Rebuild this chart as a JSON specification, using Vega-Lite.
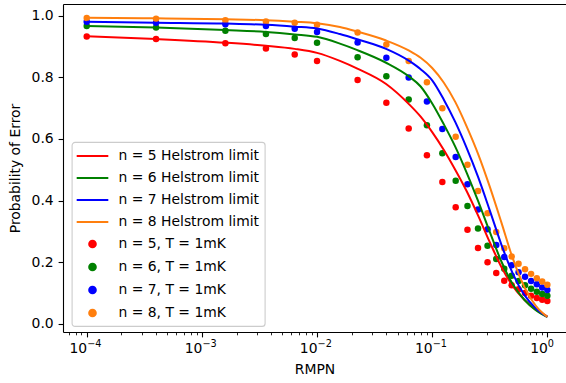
{
"$schema":"https://vega.github.io/schema/vega-lite/v6.json",
"width":503,"height":328,
"autosize":{"type":"none"},
"padding":{"left":63,"top":4,"right":0,"bottom":51},
"config":{"view":{"stroke":null},"font":"DejaVu Sans","axis":{"labelColor":"black","titleColor":"black","tickColor":"black","domainColor":"black","domainWidth":1.1,"titleFontWeight":"normal","labelFont":"DejaVu Sans","titleFont":"DejaVu Sans"}},
"datasets":{
"dots":[
{"x":0.0001,"p":0.932,"series":"n = 5, T = 1mK"},{"x":0.0004,"p":0.924,"series":"n = 5, T = 1mK"},{"x":0.0016,"p":0.910,"series":"n = 5, T = 1mK"},{"x":0.0036,"p":0.893,"series":"n = 5, T = 1mK"},{"x":0.0064,"p":0.874,"series":"n = 5, T = 1mK"},{"x":0.01,"p":0.853,"series":"n = 5, T = 1mK"},{"x":0.0225,"p":0.791,"series":"n = 5, T = 1mK"},{"x":0.04,"p":0.717,"series":"n = 5, T = 1mK"},{"x":0.0625,"p":0.634,"series":"n = 5, T = 1mK"},{"x":0.09,"p":0.547,"series":"n = 5, T = 1mK"},{"x":0.1225,"p":0.460,"series":"n = 5, T = 1mK"},{"x":0.16,"p":0.378,"series":"n = 5, T = 1mK"},{"x":0.2025,"p":0.305,"series":"n = 5, T = 1mK"},{"x":0.25,"p":0.246,"series":"n = 5, T = 1mK"},{"x":0.3025,"p":0.200,"series":"n = 5, T = 1mK"},{"x":0.36,"p":0.165,"series":"n = 5, T = 1mK"},{"x":0.4225,"p":0.140,"series":"n = 5, T = 1mK"},{"x":0.49,"p":0.125,"series":"n = 5, T = 1mK"},{"x":0.5625,"p":0.112,"series":"n = 5, T = 1mK"},{"x":0.64,"p":0.100,"series":"n = 5, T = 1mK"},{"x":0.7225,"p":0.091,"series":"n = 5, T = 1mK"},{"x":0.81,"p":0.084,"series":"n = 5, T = 1mK"},{"x":0.9025,"p":0.078,"series":"n = 5, T = 1mK"},{"x":1,"p":0.074,"series":"n = 5, T = 1mK"},
{"x":0.0001,"p":0.966,"series":"n = 6, T = 1mK"},{"x":0.0004,"p":0.961,"series":"n = 6, T = 1mK"},{"x":0.0016,"p":0.951,"series":"n = 6, T = 1mK"},{"x":0.0036,"p":0.940,"series":"n = 6, T = 1mK"},{"x":0.0064,"p":0.927,"series":"n = 6, T = 1mK"},{"x":0.01,"p":0.912,"series":"n = 6, T = 1mK"},{"x":0.0225,"p":0.865,"series":"n = 6, T = 1mK"},{"x":0.04,"p":0.803,"series":"n = 6, T = 1mK"},{"x":0.0625,"p":0.728,"series":"n = 6, T = 1mK"},{"x":0.09,"p":0.644,"series":"n = 6, T = 1mK"},{"x":0.1225,"p":0.553,"series":"n = 6, T = 1mK"},{"x":0.16,"p":0.464,"series":"n = 6, T = 1mK"},{"x":0.2025,"p":0.382,"series":"n = 6, T = 1mK"},{"x":0.25,"p":0.309,"series":"n = 6, T = 1mK"},{"x":0.3025,"p":0.253,"series":"n = 6, T = 1mK"},{"x":0.36,"p":0.210,"series":"n = 6, T = 1mK"},{"x":0.4225,"p":0.179,"series":"n = 6, T = 1mK"},{"x":0.49,"p":0.156,"series":"n = 6, T = 1mK"},{"x":0.5625,"p":0.139,"series":"n = 6, T = 1mK"},{"x":0.64,"p":0.125,"series":"n = 6, T = 1mK"},{"x":0.7225,"p":0.114,"series":"n = 6, T = 1mK"},{"x":0.81,"p":0.104,"series":"n = 6, T = 1mK"},{"x":0.9025,"p":0.097,"series":"n = 6, T = 1mK"},{"x":1,"p":0.091,"series":"n = 6, T = 1mK"},
{"x":0.0001,"p":0.980,"series":"n = 7, T = 1mK"},{"x":0.0004,"p":0.977,"series":"n = 7, T = 1mK"},{"x":0.0016,"p":0.972,"series":"n = 7, T = 1mK"},{"x":0.0036,"p":0.966,"series":"n = 7, T = 1mK"},{"x":0.0064,"p":0.957,"series":"n = 7, T = 1mK"},{"x":0.01,"p":0.947,"series":"n = 7, T = 1mK"},{"x":0.0225,"p":0.913,"series":"n = 7, T = 1mK"},{"x":0.04,"p":0.863,"series":"n = 7, T = 1mK"},{"x":0.0625,"p":0.799,"series":"n = 7, T = 1mK"},{"x":0.09,"p":0.721,"series":"n = 7, T = 1mK"},{"x":0.1225,"p":0.632,"series":"n = 7, T = 1mK"},{"x":0.16,"p":0.541,"series":"n = 7, T = 1mK"},{"x":0.2025,"p":0.453,"series":"n = 7, T = 1mK"},{"x":0.25,"p":0.371,"series":"n = 7, T = 1mK"},{"x":0.3025,"p":0.307,"series":"n = 7, T = 1mK"},{"x":0.36,"p":0.256,"series":"n = 7, T = 1mK"},{"x":0.4225,"p":0.217,"series":"n = 7, T = 1mK"},{"x":0.49,"p":0.190,"series":"n = 7, T = 1mK"},{"x":0.5625,"p":0.167,"series":"n = 7, T = 1mK"},{"x":0.64,"p":0.153,"series":"n = 7, T = 1mK"},{"x":0.7225,"p":0.139,"series":"n = 7, T = 1mK"},{"x":0.81,"p":0.128,"series":"n = 7, T = 1mK"},{"x":0.9025,"p":0.118,"series":"n = 7, T = 1mK"},{"x":1,"p":0.110,"series":"n = 7, T = 1mK"},
{"x":0.0001,"p":0.992,"series":"n = 8, T = 1mK"},{"x":0.0004,"p":0.990,"series":"n = 8, T = 1mK"},{"x":0.0016,"p":0.985,"series":"n = 8, T = 1mK"},{"x":0.0036,"p":0.981,"series":"n = 8, T = 1mK"},{"x":0.0064,"p":0.977,"series":"n = 8, T = 1mK"},{"x":0.01,"p":0.970,"series":"n = 8, T = 1mK"},{"x":0.0225,"p":0.945,"series":"n = 8, T = 1mK"},{"x":0.04,"p":0.906,"series":"n = 8, T = 1mK"},{"x":0.0625,"p":0.853,"series":"n = 8, T = 1mK"},{"x":0.09,"p":0.784,"series":"n = 8, T = 1mK"},{"x":0.1225,"p":0.699,"series":"n = 8, T = 1mK"},{"x":0.16,"p":0.607,"series":"n = 8, T = 1mK"},{"x":0.2025,"p":0.516,"series":"n = 8, T = 1mK"},{"x":0.25,"p":0.431,"series":"n = 8, T = 1mK"},{"x":0.3025,"p":0.359,"series":"n = 8, T = 1mK"},{"x":0.36,"p":0.298,"series":"n = 8, T = 1mK"},{"x":0.4225,"p":0.245,"series":"n = 8, T = 1mK"},{"x":0.49,"p":0.218,"series":"n = 8, T = 1mK"},{"x":0.5625,"p":0.195,"series":"n = 8, T = 1mK"},{"x":0.64,"p":0.177,"series":"n = 8, T = 1mK"},{"x":0.7225,"p":0.162,"series":"n = 8, T = 1mK"},{"x":0.81,"p":0.148,"series":"n = 8, T = 1mK"},{"x":0.9025,"p":0.137,"series":"n = 8, T = 1mK"},{"x":1,"p":0.127,"series":"n = 8, T = 1mK"}
],
"lines":[
{"x":0.0001,"p":0.933,"series":"n = 5 Helstrom limit"},{"x":0.0004,"p":0.924,"series":"n = 5 Helstrom limit"},{"x":0.0016,"p":0.912,"series":"n = 5 Helstrom limit"},{"x":0.0036,"p":0.902,"series":"n = 5 Helstrom limit"},{"x":0.0064,"p":0.892,"series":"n = 5 Helstrom limit"},{"x":0.01,"p":0.879,"series":"n = 5 Helstrom limit"},{"x":0.0158,"p":0.853,"series":"n = 5 Helstrom limit"},{"x":0.0224,"p":0.828,"series":"n = 5 Helstrom limit"},{"x":0.0398,"p":0.778,"series":"n = 5 Helstrom limit"},{"x":0.0631,"p":0.712,"series":"n = 5 Helstrom limit"},{"x":0.0794,"p":0.672,"series":"n = 5 Helstrom limit"},{"x":0.1,"p":0.622,"series":"n = 5 Helstrom limit"},{"x":0.1259,"p":0.565,"series":"n = 5 Helstrom limit"},{"x":0.1585,"p":0.5,"series":"n = 5 Helstrom limit"},{"x":0.1995,"p":0.43,"series":"n = 5 Helstrom limit"},{"x":0.2512,"p":0.35,"series":"n = 5 Helstrom limit"},{"x":0.3162,"p":0.265,"series":"n = 5 Helstrom limit"},{"x":0.3981,"p":0.185,"series":"n = 5 Helstrom limit"},{"x":0.5012,"p":0.122,"series":"n = 5 Helstrom limit"},{"x":0.631,"p":0.078,"series":"n = 5 Helstrom limit"},{"x":0.7943,"p":0.046,"series":"n = 5 Helstrom limit"},{"x":1,"p":0.024,"series":"n = 5 Helstrom limit"},
{"x":0.0001,"p":0.966,"series":"n = 6 Helstrom limit"},{"x":0.0004,"p":0.961,"series":"n = 6 Helstrom limit"},{"x":0.0016,"p":0.953,"series":"n = 6 Helstrom limit"},{"x":0.0036,"p":0.947,"series":"n = 6 Helstrom limit"},{"x":0.0064,"p":0.939,"series":"n = 6 Helstrom limit"},{"x":0.01,"p":0.931,"series":"n = 6 Helstrom limit"},{"x":0.0158,"p":0.909,"series":"n = 6 Helstrom limit"},{"x":0.0224,"p":0.888,"series":"n = 6 Helstrom limit"},{"x":0.0398,"p":0.847,"series":"n = 6 Helstrom limit"},{"x":0.0631,"p":0.802,"series":"n = 6 Helstrom limit"},{"x":0.0794,"p":0.77,"series":"n = 6 Helstrom limit"},{"x":0.1,"p":0.715,"series":"n = 6 Helstrom limit"},{"x":0.1259,"p":0.648,"series":"n = 6 Helstrom limit"},{"x":0.1585,"p":0.575,"series":"n = 6 Helstrom limit"},{"x":0.1995,"p":0.49,"series":"n = 6 Helstrom limit"},{"x":0.2512,"p":0.397,"series":"n = 6 Helstrom limit"},{"x":0.3162,"p":0.298,"series":"n = 6 Helstrom limit"},{"x":0.3981,"p":0.203,"series":"n = 6 Helstrom limit"},{"x":0.5012,"p":0.128,"series":"n = 6 Helstrom limit"},{"x":0.631,"p":0.078,"series":"n = 6 Helstrom limit"},{"x":0.7943,"p":0.044,"series":"n = 6 Helstrom limit"},{"x":1,"p":0.022,"series":"n = 6 Helstrom limit"},
{"x":0.0001,"p":0.98,"series":"n = 7 Helstrom limit"},{"x":0.0004,"p":0.977,"series":"n = 7 Helstrom limit"},{"x":0.0016,"p":0.974,"series":"n = 7 Helstrom limit"},{"x":0.0036,"p":0.97,"series":"n = 7 Helstrom limit"},{"x":0.0064,"p":0.964,"series":"n = 7 Helstrom limit"},{"x":0.01,"p":0.958,"series":"n = 7 Helstrom limit"},{"x":0.0158,"p":0.94,"series":"n = 7 Helstrom limit"},{"x":0.0224,"p":0.923,"series":"n = 7 Helstrom limit"},{"x":0.0398,"p":0.892,"series":"n = 7 Helstrom limit"},{"x":0.0631,"p":0.853,"series":"n = 7 Helstrom limit"},{"x":0.0794,"p":0.826,"series":"n = 7 Helstrom limit"},{"x":0.1,"p":0.79,"series":"n = 7 Helstrom limit"},{"x":0.1259,"p":0.728,"series":"n = 7 Helstrom limit"},{"x":0.1585,"p":0.655,"series":"n = 7 Helstrom limit"},{"x":0.1995,"p":0.57,"series":"n = 7 Helstrom limit"},{"x":0.2512,"p":0.475,"series":"n = 7 Helstrom limit"},{"x":0.3162,"p":0.368,"series":"n = 7 Helstrom limit"},{"x":0.3981,"p":0.258,"series":"n = 7 Helstrom limit"},{"x":0.5012,"p":0.163,"series":"n = 7 Helstrom limit"},{"x":0.631,"p":0.094,"series":"n = 7 Helstrom limit"},{"x":0.7943,"p":0.05,"series":"n = 7 Helstrom limit"},{"x":1,"p":0.022,"series":"n = 7 Helstrom limit"},
{"x":0.0001,"p":0.993,"series":"n = 8 Helstrom limit"},{"x":0.0004,"p":0.991,"series":"n = 8 Helstrom limit"},{"x":0.0016,"p":0.988,"series":"n = 8 Helstrom limit"},{"x":0.0036,"p":0.985,"series":"n = 8 Helstrom limit"},{"x":0.0064,"p":0.98,"series":"n = 8 Helstrom limit"},{"x":0.01,"p":0.975,"series":"n = 8 Helstrom limit"},{"x":0.0158,"p":0.963,"series":"n = 8 Helstrom limit"},{"x":0.0224,"p":0.948,"series":"n = 8 Helstrom limit"},{"x":0.0398,"p":0.919,"series":"n = 8 Helstrom limit"},{"x":0.0631,"p":0.886,"series":"n = 8 Helstrom limit"},{"x":0.0794,"p":0.863,"series":"n = 8 Helstrom limit"},{"x":0.1,"p":0.83,"series":"n = 8 Helstrom limit"},{"x":0.1259,"p":0.783,"series":"n = 8 Helstrom limit"},{"x":0.1585,"p":0.72,"series":"n = 8 Helstrom limit"},{"x":0.1995,"p":0.64,"series":"n = 8 Helstrom limit"},{"x":0.2512,"p":0.55,"series":"n = 8 Helstrom limit"},{"x":0.3162,"p":0.445,"series":"n = 8 Helstrom limit"},{"x":0.3981,"p":0.33,"series":"n = 8 Helstrom limit"},{"x":0.5012,"p":0.212,"series":"n = 8 Helstrom limit"},{"x":0.631,"p":0.12,"series":"n = 8 Helstrom limit"},{"x":0.7943,"p":0.058,"series":"n = 8 Helstrom limit"},{"x":1,"p":0.022,"series":"n = 8 Helstrom limit"}
]},
"encoding":{
"y":{"field":"p","type":"quantitative","scale":{"domain":[-0.0266,1.0376],"nice":false,"zero":false},
 "axis":{"title":"Probability of Error","titleFontSize":13.9,"titlePadding":9,"values":[0,0.2,0.4,0.6,0.8,1,1.0376],"labelExpr":"datum.value > 1.01 ? '' : format(datum.value, '.1f')","labelFontSize":13.9,"labelPadding":4.9,"tickSize":4.9,"tickWidth":1.1,"tickOpacity":{"condition":{"test":"datum.value > 1.01","value":0},"value":1},"grid":true,"gridWidth":1.1,"gridColor":{"condition":{"test":"datum.value > 1.01","value":"black"},"value":"transparent"},"labelFlush":false,"labelOverlap":false}},
"color":{"field":"series","type":"nominal",
 "scale":{"domain":["n = 5 Helstrom limit","n = 6 Helstrom limit","n = 7 Helstrom limit","n = 8 Helstrom limit","n = 5, T = 1mK","n = 6, T = 1mK","n = 7, T = 1mK","n = 8, T = 1mK"],"range":["#ff0000","#008000","#0000ff","#ff7f0e","#ff0000","#008000","#0000ff","#ff7f0e"]},
 "legend":{"title":null,"orient":"none","legendX":8.7,"legendY":138,"labelFontSize":13.9,"labelColor":"black","labelFont":"DejaVu Sans","labelLimit":400,"symbolSize":250,"symbolStrokeWidth":2,"symbolOffset":6.8,"labelOffset":17,"rowPadding":6,"padding":5,"fillColor":"rgba(255,255,255,0.8)","strokeColor":"#cccccc","cornerRadius":3,"symbolOpacity":1,
  "encode":{"legend":{"update":{"strokeWidth":{"value":1.1}}},"symbols":{"update":{
   "shape":{"signal":"indexof(datum.value,'Helstrom') >= 0 ? 'M-2,0L2,0' : 'M-2,0M2,0M-0.42,0A0.42,0.42 0 1,0 0.42,0A0.42,0.42 0 1,0 -0.42,0Z'"},
   "fill":{"signal":"indexof(datum.value,'Helstrom') >= 0 ? 'transparent' : scale('color', datum.value)"},
   "stroke":{"signal":"indexof(datum.value,'Helstrom') >= 0 ? scale('color', datum.value) : 'transparent'"},
   "opacity":{"value":1}}}}}}
},
"layer":[
{"data":{"name":"dots"},"mark":{"type":"circle","size":42,"opacity":1},
 "encoding":{"x":{"field":"x","type":"quantitative","scale":{"type":"log","domain":[0.00006223,1.4521],"nice":false},
  "axis":{"orient":"bottom","title":"RMPN","titleFontSize":13.9,"titlePadding":7,"grid":false,
   "values":[0.00007,0.00008,0.00009,0.0001,0.0002,0.0003,0.0004,0.0005,0.0006,0.0007,0.0008,0.0009,0.001,0.002,0.003,0.004,0.005,0.006,0.007,0.008,0.009,0.01,0.02,0.03,0.04,0.05,0.06,0.07,0.08,0.09,0.1,0.2,0.3,0.4,0.5,0.6,0.7,0.8,0.9,1],
   "labelExpr":"indexof([0.0001,0.001,0.01,0.1,1], datum.value) >= 0 ? '10' : ''",
   "labelAlign":"right","labelBaseline":"top","labelFontSize":13.9,"labelPadding":4.5,"labelFlush":false,"labelOverlap":false,"labelBound":false,
   "tickSize":{"condition":{"test":"indexof([0.0001,0.001,0.01,0.1,1], datum.value) >= 0","value":4.9},"value":2.8},
   "tickWidth":{"condition":{"test":"indexof([0.0001,0.001,0.01,0.1,1], datum.value) >= 0","value":1.1},"value":0.85},
   "encode":{"labels":{"update":{"dx":{"signal":"datum.value >= 1 ? 3.4 : -0.3"}}}}}}}},
{"data":{"name":"lines"},"mark":{"type":"line","strokeWidth":2,"interpolate":"monotone"},
 "encoding":{"x":{"field":"x","type":"quantitative","scale":{"type":"log","domain":[0.00006223,1.4521],"nice":false},
  "axis":{"orient":"bottom","title":null,"grid":false,"domain":false,"ticks":false,"tickSize":0,
   "values":[0.0001,0.001,0.01,0.1,1],
   "labelExpr":"datum.value < 0.0005 ? '−4' : datum.value < 0.005 ? '−3' : datum.value < 0.05 ? '−2' : datum.value < 0.5 ? '−1' : '0'",
   "labelAlign":"left","labelBaseline":"top","labelFontSize":9.7,"labelPadding":6.5,"labelFlush":false,"labelOverlap":false,
   "encode":{"labels":{"update":{"dx":{"signal":"datum.value >= 1 ? 4 : -0.3"}}}}}}}}
],
"resolve":{"axis":{"x":"independent"}}
}
